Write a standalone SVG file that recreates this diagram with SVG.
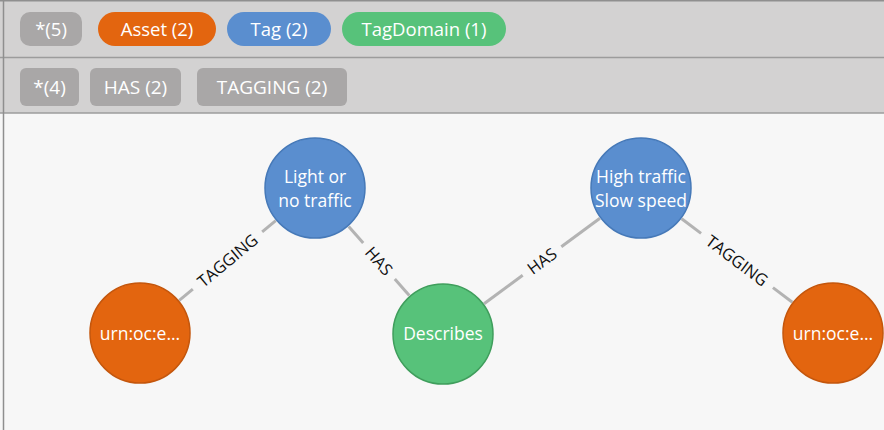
<svg xmlns="http://www.w3.org/2000/svg" width="884" height="430" viewBox="0 0 884 430">
  <style>
    .bar { fill: #d3d2d2; }
    .sep { stroke: #9c9c9c; stroke-width: 1.5; }
    .pill-txt { font-family: "Open Sans", "Noto Sans", sans-serif; font-size: 18.5px; fill: #ffffff; text-anchor: middle; }
    .pill-txt2 { font-family: "Open Sans", "Noto Sans", sans-serif; font-size: 19px; fill: #ffffff; text-anchor: middle; }
    .gray { fill: #a9a7a7; }
    .asset { fill: #e3650f; stroke: #c4560c; stroke-width: 1.5; }
    .tag { fill: #5a8ecf; stroke: #4679b8; stroke-width: 1.5; }
    .dom { fill: #57c27a; stroke: #3f9e5c; stroke-width: 1.5; }
    .node-txt { font-family: "Open Sans", "Noto Sans", sans-serif; font-size: 17.5px; fill: #ffffff; text-anchor: middle; }
    .edge { stroke: #b3b3b3; stroke-width: 3; fill: none; }
    .edge-txt { font-family: "Open Sans", "Noto Sans", sans-serif; font-size: 16.5px; fill: #111111; text-anchor: middle; }
  </style>

  <!-- canvas -->
  <rect x="0" y="0" width="884" height="430" fill="#f7f7f7"/>
  <rect class="bar" x="0" y="0" width="884" height="113"/>
  <line class="sep" x1="0" y1="57.5" x2="884" y2="57.5"/>
  <line class="sep" x1="0" y1="113" x2="884" y2="113"/>
  <line x1="3.5" y1="0" x2="3.5" y2="430" stroke="#8f8f8f" stroke-width="1.5"/>
  <line x1="0" y1="0.75" x2="884" y2="0.75" stroke="#8f8f8f" stroke-width="1.5"/>

  <!-- label filters -->
  <g id="label-filters">
    <rect class="gray" x="20" y="12" width="62" height="34" rx="10"/>
    <text class="pill-txt" x="51" y="36">*(5)</text>
    <rect x="98" y="12" width="118" height="34" rx="17" fill="#e3650f"/>
    <text class="pill-txt" x="157" y="36">Asset (2)</text>
    <rect x="227" y="12" width="104" height="34" rx="17" fill="#5a8ecf"/>
    <text class="pill-txt" x="279" y="36">Tag (2)</text>
    <rect x="342" y="12" width="164" height="34" rx="17" fill="#57c27a"/>
    <text class="pill-txt" x="424" y="36">TagDomain (1)</text>
  </g>

  <!-- relationship filters -->
  <g id="rel-filters">
    <rect class="gray" x="20" y="68" width="59" height="38" rx="6"/>
    <text class="pill-txt2" x="49.5" y="94">*(4)</text>
    <rect class="gray" x="90" y="68" width="91" height="38" rx="6"/>
    <text class="pill-txt2" x="135.5" y="94">HAS (2)</text>
    <rect class="gray" x="197" y="68" width="150" height="38" rx="6"/>
    <text class="pill-txt2" x="272" y="94">TAGGING (2)</text>
  </g>

  <!-- connectors: each drawn along its own axis, split around the caption -->
  <g id="connectors">
    <g transform="translate(227.5,260.5) rotate(-39.6)">
      <line class="edge" x1="-62.6" y1="0" x2="-45" y2="0"/>
      <line class="edge" x1="45" y1="0" x2="62.6" y2="0"/>
      <text class="edge-txt" x="0" y="6">TAGGING</text>
    </g>
    <g transform="translate(379,261) rotate(48.8)">
      <line class="edge" x1="-46" y1="0" x2="-24" y2="0"/>
      <line class="edge" x1="24" y1="0" x2="46" y2="0"/>
      <text class="edge-txt" x="0" y="6">HAS</text>
    </g>
    <g transform="translate(542,261) rotate(-36.4)">
      <line class="edge" x1="-72" y1="0" x2="-24" y2="0"/>
      <line class="edge" x1="24" y1="0" x2="72" y2="0"/>
      <text class="edge-txt" x="0" y="6">HAS</text>
    </g>
    <g transform="translate(737,260.5) rotate(37)">
      <line class="edge" x1="-69.3" y1="0" x2="-45" y2="0"/>
      <line class="edge" x1="45" y1="0" x2="69.3" y2="0"/>
      <text class="edge-txt" x="0" y="6">TAGGING</text>
    </g>
  </g>

  <!-- nodes -->
  <g id="tag-light">
    <circle class="tag" cx="315" cy="188" r="50"/>
    <text class="node-txt" x="315" y="183">Light or</text>
    <text class="node-txt" x="315" y="207">no traffic</text>
  </g>
  <g id="tag-high">
    <circle class="tag" cx="641" cy="188" r="50"/>
    <text class="node-txt" x="641" y="183">High traffic</text>
    <text class="node-txt" x="641" y="207">Slow speed</text>
  </g>
  <g id="domain-describes">
    <circle class="dom" cx="443" cy="334" r="50"/>
    <text class="node-txt" x="443" y="340">Describes</text>
  </g>
  <g id="asset-left">
    <circle class="asset" cx="140" cy="333" r="50"/>
    <text class="node-txt" x="140" y="340">urn:oc:e...</text>
  </g>
  <g id="asset-right">
    <circle class="asset" cx="833" cy="333" r="50"/>
    <text class="node-txt" x="833" y="340">urn:oc:e...</text>
  </g>
</svg>
